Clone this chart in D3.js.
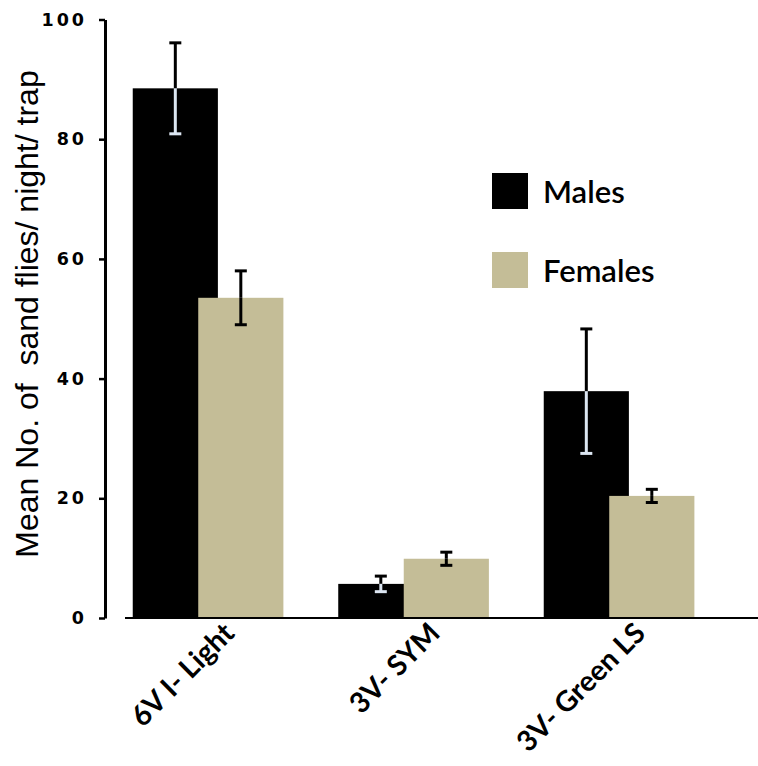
<!DOCTYPE html>
<html>
<head>
<meta charset="utf-8">
<script src="https://cdn.jsdelivr.net/npm/d3@7"></script>
<style>
  body { margin: 0; background: #fff; }
  svg { display: block; }
</style>
</head>
<body>
<div id="chart"></div>
<script>
(function(){
    "use strict";

    //==========================================================================================
    // Data
    //==========================================================================================
    var categories = ["6V I- Light", "3V- SYM", "3V- Green LS"];
    var seriesNames = ["Males", "Females"];
    var malesMean = [88.5, 5.7, 37.9];
    var malesErr = [7.6, 1.3, 10.4];
    var femalesMean = [53.5, 9.9, 20.4];
    var femalesErr = [4.5, 1.1, 1.1];
    var yTicks = [0, 20, 40, 60, 80, 100];
    var yTitle = "Mean No. of  sand flies/ night/ trap";

    //==========================================================================================
    // Layout
    //==========================================================================================
    var width = 758, height = 766;
    var colors = { Males: "#000000", Females: "#c4bd97" };
    var errInside = { Males: "#dce6f2", Females: "#000000" };

    var svg = d3.select("#chart").append("svg")
        .attr("width", width)
        .attr("height", height);

    var y = d3.scaleLinear().domain([0, 100]).range([618, 19.5]);

    var xGroup = d3.scaleBand()
        .domain(categories)
        .range([105, 721.5])
        .paddingInner(0.27)
        .paddingOuter(0.135);

    // bars overlap a bit, like the spreadsheet original
    var xSub = d3.scaleBand()
        .domain(seriesNames)
        .range([0, 131]);
    var barWidth = xSub.bandwidth() * 1.3;

    var series = [
        { name: "Males", mean: malesMean, err: malesErr },
        { name: "Females", mean: femalesMean, err: femalesErr }
    ];

    //------------------------------------------------------------------------------------------
    // Y axis
    //------------------------------------------------------------------------------------------
    var yAxis = svg.append("g")
        .attr("transform", "translate(105,0)")
        .call(d3.axisLeft(y).tickValues(yTicks).tickSize(6).tickSizeOuter(0).tickPadding(12));

    yAxis.select(".domain").attr("stroke", "#000").attr("stroke-width", 3);
    yAxis.selectAll(".tick line").attr("stroke", "#000").attr("stroke-width", 2.5);
    yAxis.selectAll(".tick text")
        .attr("fill", "#000")
        .style("font-family", "'DejaVu Sans', sans-serif")
        .style("font-weight", "bold")
        .style("font-size", "17.5px")
        .style("letter-spacing", "3px");

    svg.append("text")
        .attr("transform", "translate(38,314) rotate(-90)")
        .attr("text-anchor", "middle")
        .style("font-family", "'Liberation Sans', Arial, sans-serif")
        .style("font-size", "32px")
        .style("white-space", "pre")
        .attr("fill", "#000")
        .text(yTitle);

    //------------------------------------------------------------------------------------------
    // Bars
    //------------------------------------------------------------------------------------------
    series.forEach(function(s) {
        var g = svg.append("g").attr("class", "series");

        g.selectAll("rect")
            .data(categories)
            .enter()
            .append("rect")
            .attr("x", function(d) { return xGroup(d) + xSub(s.name); })
            .attr("y", function(d, i) { return y(s.mean[i]); })
            .attr("width", barWidth)
            .attr("height", function(d, i) { return y(0) - y(s.mean[i]); })
            .attr("fill", colors[s.name]);

        // error bars: part above the bar in black, part inside in contrast colour
        var eb = g.selectAll(".err")
            .data(categories)
            .enter()
            .append("g")
            .attr("class", "err")
            .attr("transform", function(d) {
                return "translate(" + (xGroup(d) + xSub(s.name) + barWidth / 2) + ",0)";
            });

        eb.append("line")
            .attr("y1", function(d, i) { return y(s.mean[i] + s.err[i]); })
            .attr("y2", function(d, i) { return y(s.mean[i]); })
            .attr("stroke", "#000").attr("stroke-width", 3);
        eb.append("line")
            .attr("y1", function(d, i) { return y(s.mean[i]); })
            .attr("y2", function(d, i) { return y(s.mean[i] - s.err[i]); })
            .attr("stroke", errInside[s.name]).attr("stroke-width", 3);
        eb.append("line")
            .attr("x1", -6).attr("x2", 6)
            .attr("y1", function(d, i) { return y(s.mean[i] + s.err[i]); })
            .attr("y2", function(d, i) { return y(s.mean[i] + s.err[i]); })
            .attr("stroke", "#000").attr("stroke-width", 3);
        eb.append("line")
            .attr("x1", -6).attr("x2", 6)
            .attr("y1", function(d, i) { return y(s.mean[i] - s.err[i]); })
            .attr("y2", function(d, i) { return y(s.mean[i] - s.err[i]); })
            .attr("stroke", errInside[s.name]).attr("stroke-width", 3);
    });

    //------------------------------------------------------------------------------------------
    // X axis
    //------------------------------------------------------------------------------------------
    svg.append("line")
        .attr("x1", 125).attr("x2", width)
        .attr("y1", y(0)).attr("y2", y(0))
        .attr("stroke", "#000").attr("stroke-width", 2);

    var groupW = 131 - xSub.bandwidth() + barWidth;
    svg.append("g").selectAll("text")
        .data(categories)
        .enter()
        .append("text")
        .attr("transform", function(d) {
            return "translate(" + (xGroup(d) + groupW / 2 + 28) + "," + (y(0) + 17) + ") rotate(-45)";
        })
        .attr("text-anchor", "end")
        .style("font-family", "Lato, sans-serif")
        .style("font-weight", "bold")
        .style("font-size", "28.5px")
        .attr("fill", "#000")
        .text(function(d) { return d; });

    //------------------------------------------------------------------------------------------
    // Legend
    //------------------------------------------------------------------------------------------
    var legend = svg.selectAll(".legend")
        .data(seriesNames)
        .enter()
        .append("g")
        .attr("class", "legend")
        .attr("transform", function(d, i) { return "translate(492," + (173 + i * 79) + ")"; });

    legend.append("rect")
        .attr("width", 36).attr("height", 36)
        .attr("fill", function(d) { return colors[d]; });

    legend.append("text")
        .attr("x", 51).attr("y", 30)
        .style("font-family", "Lato, sans-serif")
        .style("font-size", "31px")
        .style("font-weight", "600")
        .attr("fill", "#000")
        .text(function(d) { return d; });

})();
</script>
</body>
</html>
